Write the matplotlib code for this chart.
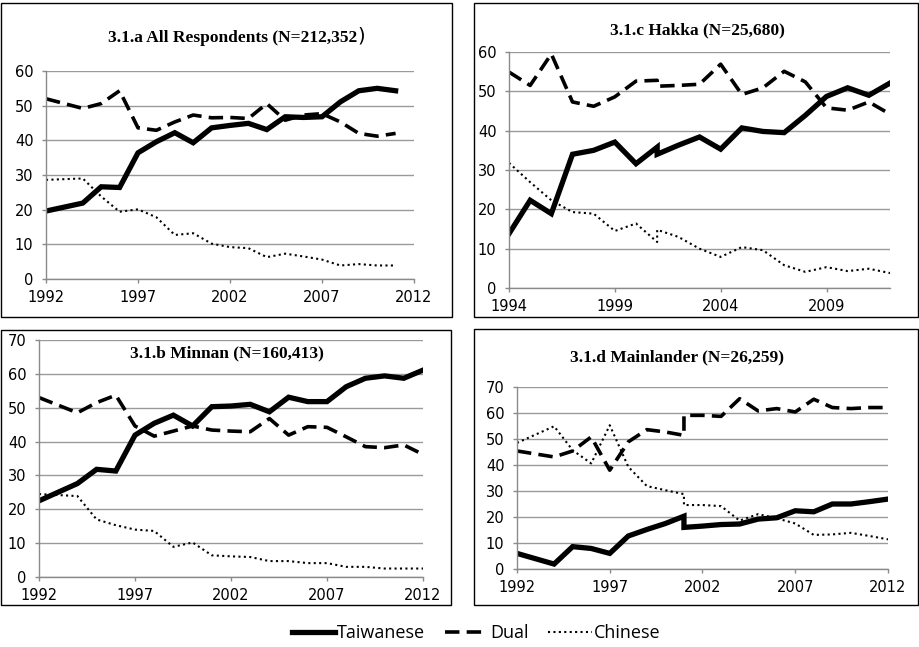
import matplotlib
matplotlib.use("Agg")
import matplotlib.pyplot as plt
from matplotlib.patches import Rectangle
from matplotlib.lines import Line2D

W, H = 919, 647

# ---------------- data ----------------
yrs_all = [1992, 1994, 1995, 1996, 1997, 1998, 1999, 2000, 2001, 2002, 2003,
           2004, 2005, 2006, 2007, 2008, 2009, 2010, 2011]
tw_all = [19.6, 21.9, 26.6, 26.4, 36.4, 39.6, 42.2, 39.3, 43.6, 44.3, 44.9,
          43.1, 46.8, 46.6, 46.8, 51.1, 54.3, 55.0, 54.3]
du_all = [52.0, 49.2, 50.6, 54.3, 43.6, 42.9, 45.3, 47.3, 46.5, 46.6, 46.3,
          50.6, 45.8, 47.3, 47.7, 45.3, 42.0, 41.2, 42.0]
ch_all = [28.6, 29.0, 23.8, 19.4, 20.1, 17.8, 12.7, 13.2, 10.2, 9.2, 8.9,
          6.3, 7.3, 6.5, 5.6, 3.9, 4.3, 3.9, 3.9]

yrs_hak = [1994, 1995, 1996, 1997, 1998, 1999, 2000, 2001, 2001, 2002, 2003,
           2004, 2005, 2006, 2007, 2008, 2009, 2010, 2011, 2012]
tw_hak = [13.8, 22.3, 18.9, 34.0, 35.0, 37.1, 31.6, 35.8, 34.0, 36.3, 38.4,
          35.3, 40.7, 39.8, 39.5, 43.9, 48.7, 50.9, 49.0, 52.1]
du_hak = [54.9, 51.5, 59.5, 47.3, 46.2, 48.6, 52.6, 52.8, 51.3, 51.5, 51.8,
          56.9, 49.2, 50.9, 55.1, 52.4, 45.8, 45.2, 47.3, 44.2]
ch_hak = [31.8, 26.9, 22.3, 19.3, 18.9, 14.5, 16.4, 11.7, 14.8, 13.0, 10.0,
          7.9, 10.4, 9.6, 5.8, 4.1, 5.3, 4.3, 4.9, 3.8]

yrs_min = [1992, 1994, 1995, 1996, 1997, 1998, 1999, 2000, 2001, 2002, 2003,
           2004, 2005, 2006, 2007, 2008, 2009, 2010, 2011, 2012]
tw_min = [22.5, 27.6, 31.8, 31.3, 41.9, 45.4, 47.8, 44.6, 50.3, 50.5, 51.0,
          48.8, 53.1, 51.8, 51.8, 56.2, 58.7, 59.4, 58.7, 61.1]
du_min = [53.0, 48.5, 51.5, 53.7, 44.6, 41.6, 43.1, 44.6, 43.4, 43.1, 42.9,
          46.8, 41.9, 44.4, 44.2, 41.4, 38.5, 38.2, 39.0, 36.2]
ch_min = [24.5, 23.9, 17.0, 15.3, 14.0, 13.6, 8.9, 10.2, 6.4, 6.1, 5.9,
          4.7, 4.7, 4.1, 4.1, 3.0, 3.0, 2.5, 2.5, 2.5]

yrs_mai = [1992, 1994, 1995, 1996, 1997, 1998, 1999, 2000, 2001, 2001, 2002,
           2003, 2004, 2005, 2006, 2007, 2008, 2009, 2010, 2011, 2012]
tw_mai = [6.0, 1.9, 8.6, 7.9, 6.0, 12.7, 15.2, 17.5, 20.3, 16.0, 16.5,
          17.1, 17.3, 19.2, 19.7, 22.4, 22.0, 25.0, 25.0, 25.9, 26.9]
du_mai = [45.4, 43.1, 45.4, 50.8, 38.0, 48.9, 53.6, 52.7, 51.4, 59.1, 59.1,
          58.7, 65.5, 60.8, 61.7, 60.4, 65.3, 62.1, 61.7, 62.1, 62.1]
ch_mai = [48.5, 54.9, 45.7, 40.6, 55.3, 39.3, 31.9, 30.3, 28.8, 24.6, 24.6,
          24.2, 18.6, 21.1, 19.5, 17.5, 13.1, 13.3, 13.9, 12.7, 11.4]

series_names = ["Taiwanese", "Dual", "Chinese"]

fig = plt.figure(figsize=(W / 100, H / 100), dpi=100)


def px_axes(l, t, r, b):
    return fig.add_axes([l / W, 1 - b / H, (r - l) / W, (b - t) / H])


def box(l, t, r, b):
    fig.patches.append(Rectangle((l / W, 1 - b / H), (r - l) / W, (b - t) / H,
                                 transform=fig.transFigure, fill=False,
                                 edgecolor="black", linewidth=1.0))


styles = [dict(color="black", lw=3.8, ls="-", solid_joinstyle="miter"),
          dict(color="black", lw=2.6, ls=(0, (4, 2))),
          dict(color="black", lw=1.5, ls=(0, (1, 1.6)))]


def panel(ax, x, tw, du, ch, xticks, xlim, ymax):
    for vals, st in zip([ch, du, tw], [styles[2], styles[1], styles[0]]):
        ax.plot(x, vals, **st)
    ax.set_xlim(*xlim)
    ax.set_ylim(0, ymax)
    ax.set_xticks(xticks)
    ax.set_yticks(range(0, ymax + 1, 10))
    ax.yaxis.grid(True, color="#9a9a9a", lw=1.0)
    ax.set_axisbelow(True)
    for s in ["top", "right"]:
        ax.spines[s].set_visible(False)
    for s in ["left", "bottom"]:
        ax.spines[s].set_color("#8a8a8a")
        ax.spines[s].set_linewidth(1.0)
    ax.tick_params(axis="both", colors="#8a8a8a", labelcolor="black",
                   labelsize=10.5, length=3, width=1.0)
    ax.tick_params(axis="x", pad=5)
    ax.tick_params(axis="y", pad=6)
    for lab in ax.get_xticklabels() + ax.get_yticklabels():
        lab.set_fontfamily("DejaVu Sans")
    ax.set_facecolor("none")


title_font = dict(family="Liberation Serif", weight="bold", fontsize=12.5,
                  va="center")

# 3.1.a
box(1, 3, 452, 317)
ax = px_axes(46, 71, 414, 279)
panel(ax, yrs_all, tw_all, du_all, ch_all, range(1992, 2013, 5), (1992, 2012), 60)
fig.text(357 / W, 1 - 38 / H, "3.1.a All Respondents (N=212,352", ha="right", **title_font)
fig.text(357 / W, 1 - 36 / H, ")", ha="left", va="center", family="DejaVu Sans",
         fontsize=14)

# 3.1.c
box(474, 3, 918, 317)
ax = px_axes(509, 52, 890, 288)
panel(ax, yrs_hak, tw_hak, du_hak, ch_hak, range(1994, 2010, 5), (1994, 2012), 60)
fig.text(697 / W, 1 - 30 / H, "3.1.c Hakka (N=25,680)", ha="center", **title_font)

# 3.1.b
box(1, 330, 451, 605)
ax = px_axes(39, 340, 423, 577)
panel(ax, yrs_min, tw_min, du_min, ch_min, range(1992, 2013, 5), (1992, 2012), 70)
fig.text(227 / W, 1 - 353 / H, "3.1.b Minnan (N=160,413)", ha="center", **title_font)

# 3.1.d
box(474, 329, 918, 605)
ax = px_axes(517, 387, 888, 569)
panel(ax, yrs_mai, tw_mai, du_mai, ch_mai, range(1992, 2013, 5), (1992, 2012), 70)
fig.text(677 / W, 1 - 357 / H, "3.1.d Mainlander (N=26,259)", ha="center", **title_font)

handles = [Line2D([], [], **st) for st in styles]
fig.legend(handles, series_names, loc="center", bbox_to_anchor=(476 / W, 1 - 633 / H),
           ncol=3, frameon=False, handlelength=2.4, handletextpad=0.1,
           columnspacing=1.1, prop=dict(family="Open Sans", size=13))

fig.savefig("out.png", dpi=100)
